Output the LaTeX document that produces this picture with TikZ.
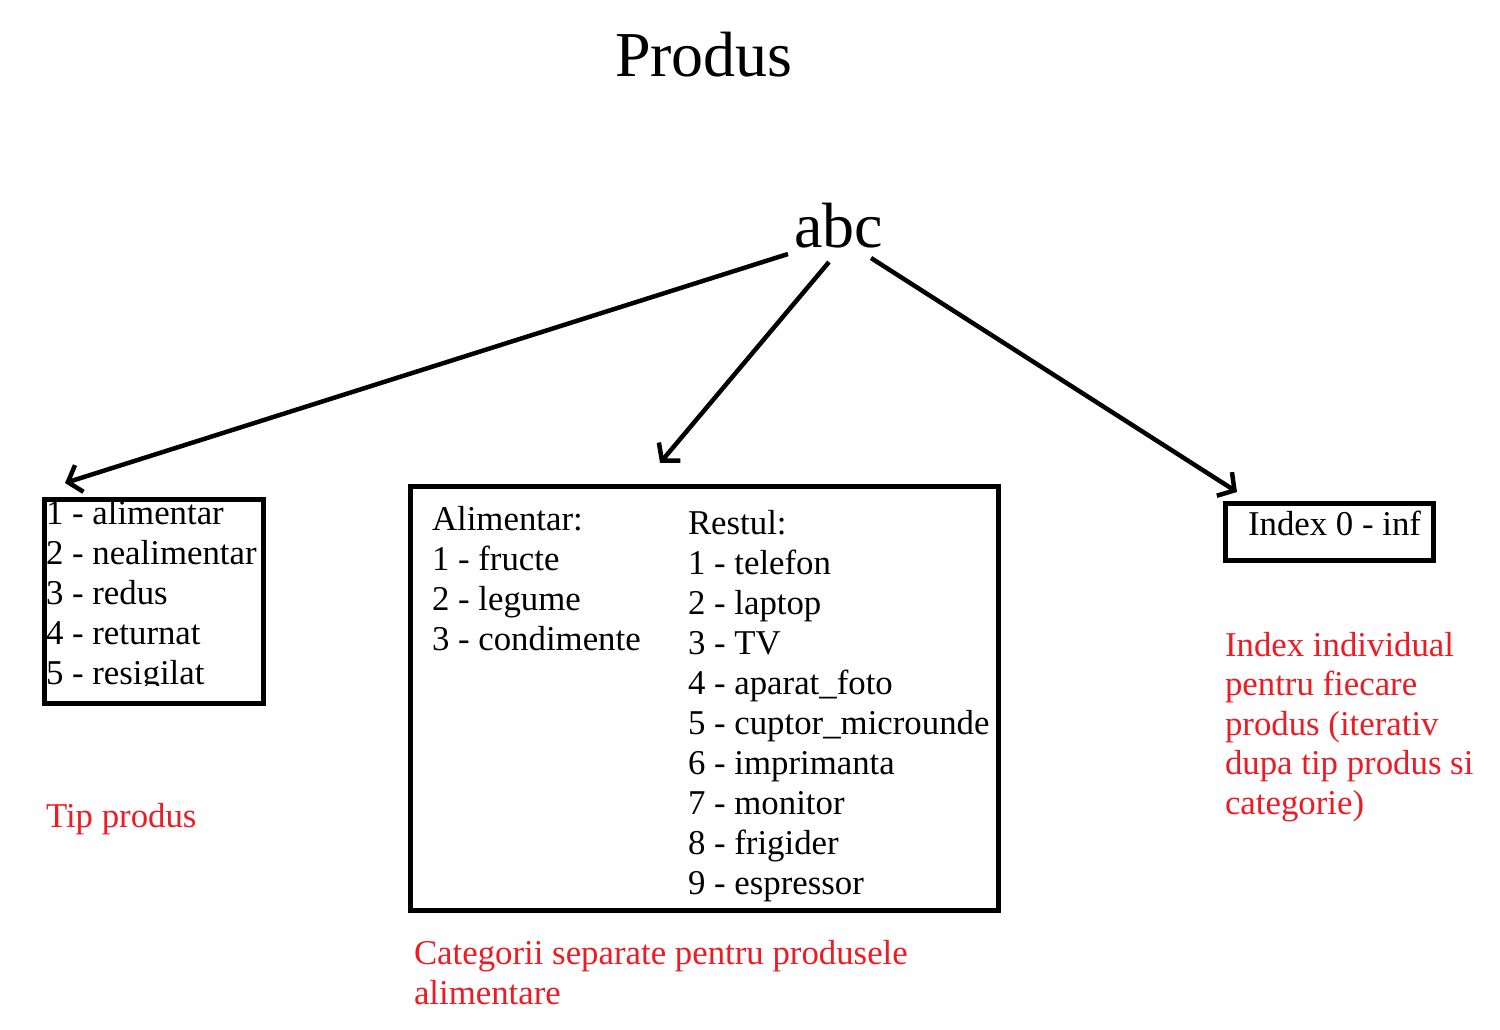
\documentclass[tikz,border=0pt]{standalone}
\usepackage{fontspec}
\setmainfont{Liberation Serif}
\usetikzlibrary{arrows.meta}
\definecolor{pred}{RGB}{237,28,36}
\tikzset{
  txt/.style={anchor=base west, inner sep=0pt, outer sep=0pt, font=\fontsize{34.8}{40}\selectfont, align=left},
  redtxt/.style={txt, text=pred},
  big/.style={anchor=base west, inner sep=0pt, outer sep=0pt, font=\fontsize{64}{70}\selectfont},
  boxed/.style={draw=black, line width=5pt, rectangle, inner sep=0pt, minimum width=#1},
  arr/.style={line width=4.5pt, -{Straight Barb[length=12pt,width=28pt,line width=4.5pt]}}
}
\begin{document}
\begin{tikzpicture}[x=1pt,y=-1pt]
\useasboundingbox[fill=white] (0,0) rectangle (1500,1030);

% titles
\node[big] (title) at (615,77) {Produs};
\node[big] (abc) at (794,247) {abc};

% boxes
\node[boxed=219pt, minimum height=204pt] (tipbox) at (154,601.5) {};
\node[boxed=588pt, minimum height=424pt] (catbox) at (704.5,698.5) {};
\node[boxed=208pt, minimum height=57pt] (idxbox) at (1329.5,532) {};

% left box text (last line clipped by the box); anchor = baseline of last line
\begin{scope}
\clip (0,0) rectangle (1500,685);
\node[txt] (tiplist) at (46,684) {1 - alimentar\\2 - nealimentar\\3 - redus\\4 - returnat\\5 - resigilat};
\end{scope}

% middle box text
\node[txt] (alim) at (432,650) {Alimentar:\\1 - fructe\\2 - legume\\3 - condimente};
\node[txt] (rest) at (688,894) {Restul:\\1 - telefon\\2 - laptop\\3 - TV\\4 - aparat\_foto\\5 - cuptor\_microunde\\6 - imprimanta\\7 - monitor\\8 - frigider\\9 - espressor};

% right box text
\node[txt] (idxtxt) at (1248,535) {Index 0 - inf};

% red captions
\node[redtxt] (tipcap) at (46,827) {Tip produs};
\node[redtxt, font=\fontsize{34.8}{39.5}\selectfont] (catcap) at (414,1004) {Categorii separate pentru produsele\\alimentare};
\node[redtxt, font=\fontsize{34.8}{39.5}\selectfont] (idxcap) at (1225,814) {Index individual\\pentru fiecare\\produs (iterativ\\dupa tip produs si\\categorie)};

% connectors
\coordinate (s1) at (788,254);
\coordinate (e1) at (65,483);
\coordinate (s2) at (829,262);
\coordinate (e2) at (660,463);
\coordinate (s3) at (871,258);
\coordinate (e3) at (1237,492);
\draw[arr] (s1) -- (e1);
\draw[arr] (s2) -- (e2);
\draw[arr] (s3) -- (e3);
\end{tikzpicture}
\end{document}
